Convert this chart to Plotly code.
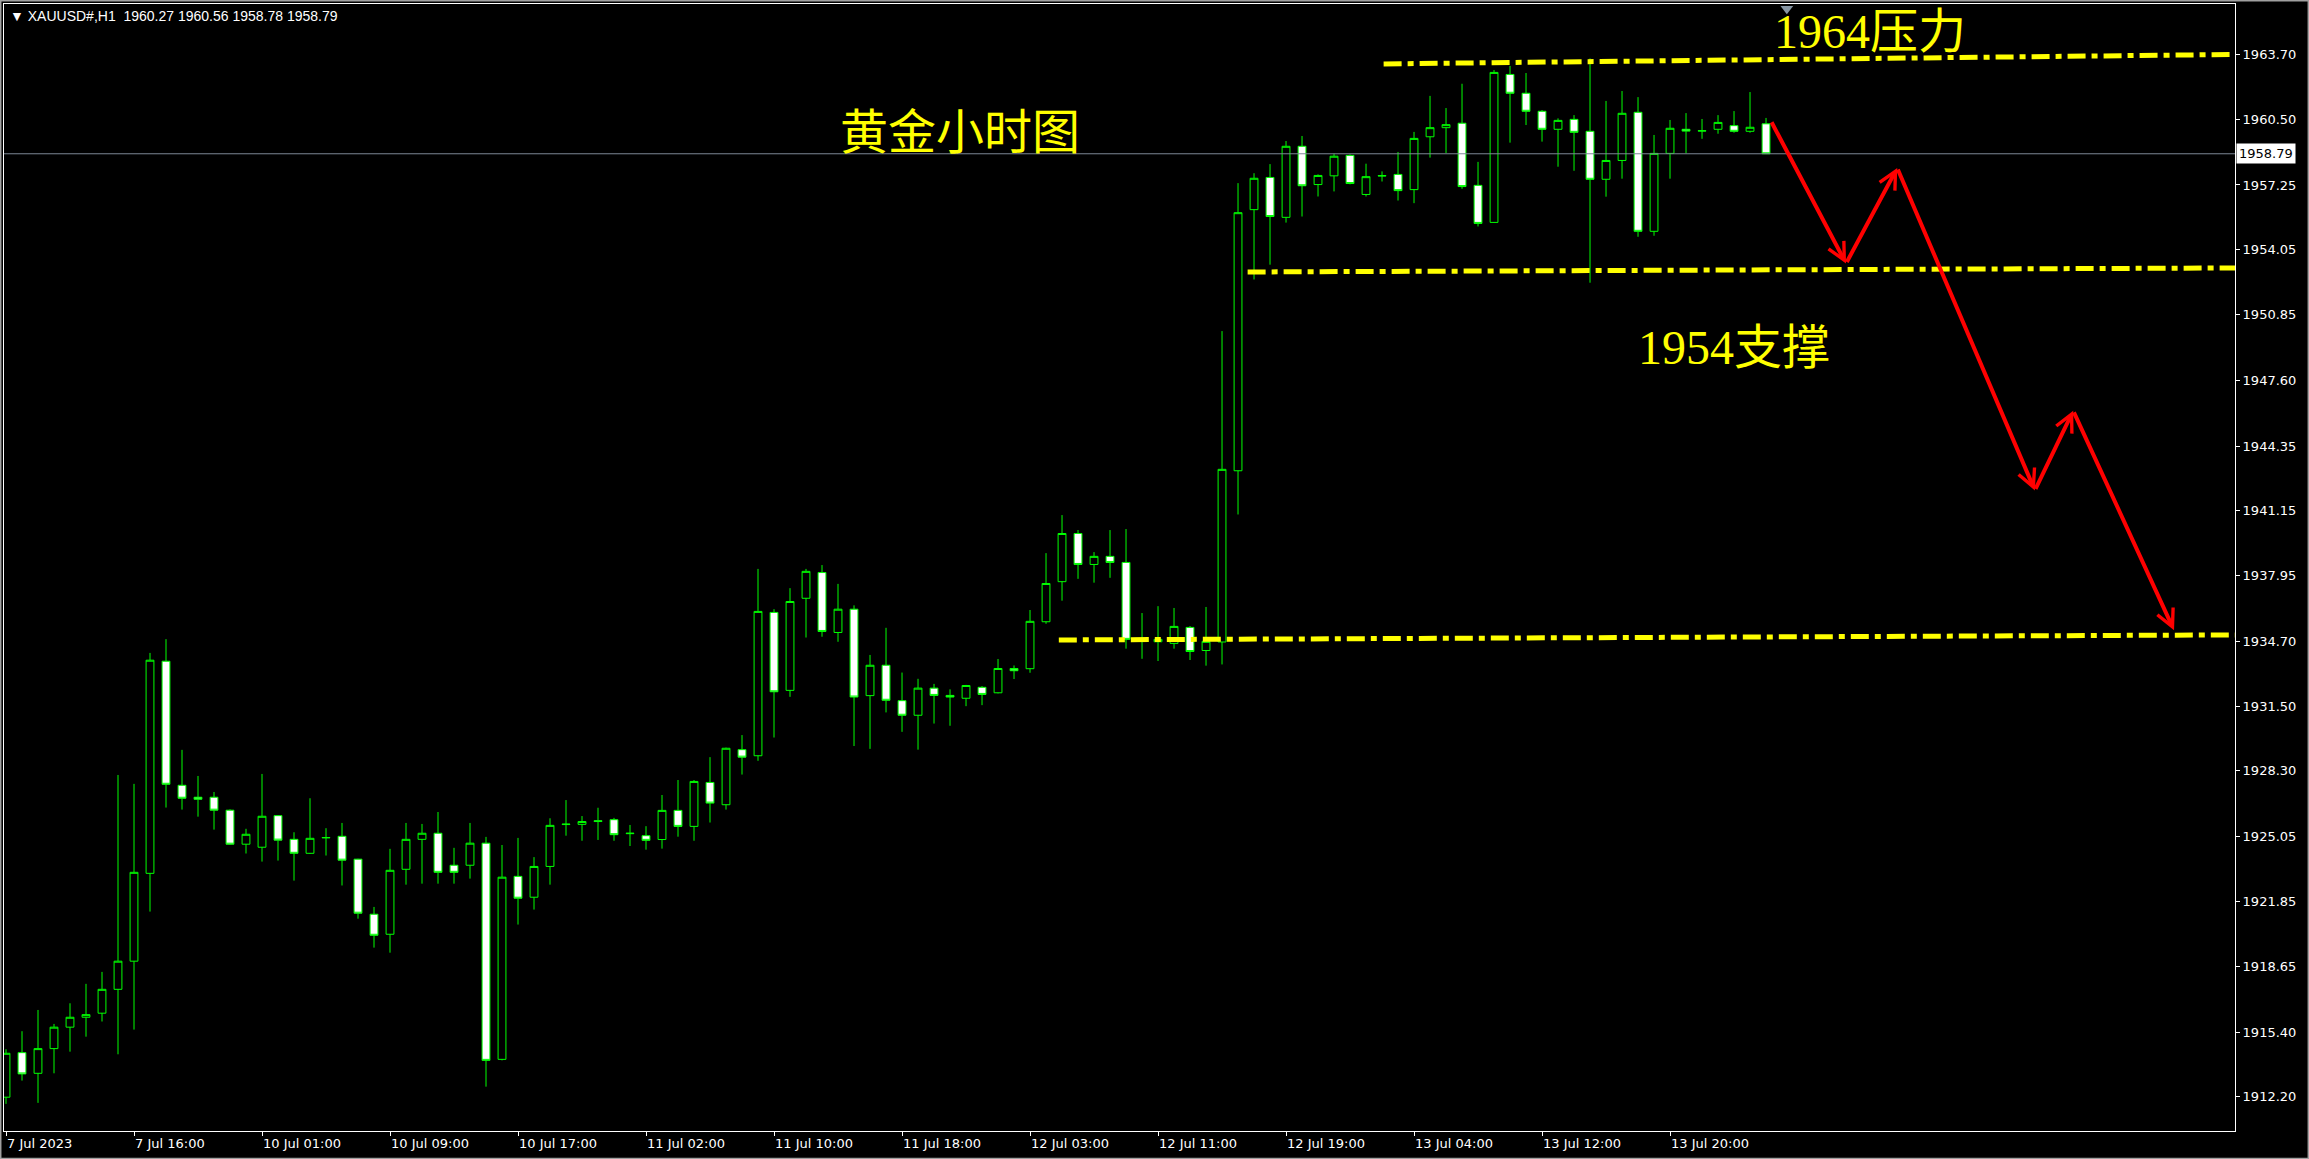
import plotly.graph_objects as go

# ---------------- data ----------------
bar_index = list(range(111))

open_ = [1912.18, 1914.38, 1913.36, 1914.58, 1915.64, 1916.13, 1916.33, 1917.51, 1918.90, 1923.24,
         1933.72, 1927.59, 1927.00, 1927.00, 1926.36, 1924.68, 1924.53, 1926.09, 1924.92, 1924.23,
         1924.99, 1925.07, 1923.94, 1921.22, 1920.23, 1923.44, 1924.92, 1925.22, 1923.64, 1923.64,
         1924.73, 1914.05, 1923.09, 1922.06, 1923.58, 1925.65, 1925.66, 1925.84, 1925.89, 1925.20,
         1925.10, 1924.91, 1926.35, 1925.56, 1927.73, 1926.63, 1929.35, 1929.05, 1936.13, 1932.28,
         1936.83, 1938.10, 1935.14, 1936.29, 1932.02, 1933.52, 1931.77, 1931.05, 1932.39, 1932.03,
         1931.89, 1932.43, 1932.16, 1933.36, 1933.35, 1935.67, 1937.65, 1940.03, 1938.50, 1938.90,
         1938.60, 1934.76, 1934.68, 1934.60, 1935.39, 1934.25, 1934.67, 1943.13, 1956.03, 1957.62,
         1955.65, 1959.16, 1957.27, 1957.70, 1958.71, 1956.78, 1957.69, 1957.77, 1957.02, 1959.63,
         1960.08, 1960.30, 1957.23, 1955.40, 1962.71, 1961.78, 1960.89, 1960.00, 1960.49, 1959.90,
         1957.53, 1958.46, 1960.84, 1954.96, 1958.81, 1960.00, 1959.91, 1960.00, 1960.18, 1959.90,
         1960.27]
high = [1914.55, 1915.44, 1916.49, 1915.80, 1916.82, 1917.78, 1918.37, 1928.10, 1927.66, 1934.13,
        1934.81, 1929.34, 1928.05, 1927.26, 1926.40, 1925.44, 1928.15, 1926.12, 1925.27, 1926.95,
        1925.47, 1925.73, 1923.96, 1921.58, 1924.45, 1925.73, 1925.68, 1926.27, 1924.50, 1925.73,
        1925.04, 1924.64, 1924.99, 1924.04, 1925.96, 1926.86, 1926.07, 1926.48, 1925.98, 1925.63,
        1925.57, 1927.11, 1927.85, 1927.85, 1928.98, 1929.45, 1930.07, 1938.28, 1936.29, 1937.33,
        1938.28, 1938.47, 1937.54, 1936.48, 1934.03, 1935.37, 1933.16, 1932.85, 1932.60, 1932.33,
        1932.55, 1932.49, 1933.83, 1933.51, 1936.25, 1939.06, 1940.94, 1940.20, 1939.11, 1940.20,
        1940.25, 1936.10, 1936.44, 1936.35, 1935.46, 1936.40, 1950.03, 1957.34, 1957.83, 1958.28,
        1959.42, 1959.67, 1957.77, 1958.80, 1958.76, 1958.30, 1957.92, 1958.88, 1959.87, 1961.65,
        1961.05, 1962.25, 1958.39, 1962.93, 1963.13, 1962.78, 1960.95, 1960.54, 1960.70, 1963.50,
        1961.40, 1961.89, 1961.59, 1959.72, 1960.46, 1960.80, 1960.51, 1960.70, 1960.90, 1961.84,
        1960.56]
low = [1911.85, 1913.00, 1911.90, 1913.36, 1914.43, 1915.17, 1915.92, 1914.30, 1915.52, 1921.35,
       1926.49, 1926.39, 1926.04, 1925.40, 1924.65, 1924.22, 1923.82, 1923.87, 1922.88, 1924.20,
       1924.12, 1922.64, 1921.00, 1919.57, 1919.32, 1922.68, 1922.73, 1922.73, 1922.73, 1922.98,
       1912.70, 1914.00, 1920.71, 1921.45, 1922.68, 1925.10, 1924.85, 1924.89, 1924.85, 1924.59,
       1924.41, 1924.46, 1925.05, 1924.85, 1925.75, 1926.39, 1928.12, 1928.80, 1929.95, 1931.96,
       1934.89, 1934.93, 1934.68, 1929.53, 1929.39, 1931.19, 1930.23, 1929.35, 1930.64, 1930.53,
       1931.50, 1931.55, 1932.13, 1932.84, 1933.15, 1935.57, 1936.71, 1937.79, 1937.60, 1937.84,
       1934.34, 1933.84, 1933.73, 1934.34, 1933.78, 1933.50, 1933.56, 1940.97, 1952.58, 1953.31,
       1955.39, 1955.69, 1956.68, 1956.93, 1957.28, 1956.68, 1957.42, 1956.48, 1956.35, 1958.60,
       1958.82, 1957.06, 1955.20, 1955.38, 1959.34, 1960.21, 1959.39, 1958.15, 1957.95, 1952.42,
       1956.67, 1957.56, 1954.69, 1954.74, 1957.56, 1958.81, 1959.53, 1959.78, 1959.83, 1959.83,
       1958.78]
close = [1914.35, 1913.33, 1914.58, 1915.64, 1916.13, 1916.26, 1917.51, 1918.90, 1923.29, 1933.77,
         1927.64, 1926.95, 1926.90, 1926.36, 1924.68, 1925.17, 1926.06, 1924.88, 1924.23, 1924.97,
         1925.01, 1923.89, 1921.27, 1920.18, 1923.39, 1924.92, 1925.22, 1923.29, 1923.29, 1924.73,
         1914.00, 1923.05, 1922.01, 1923.58, 1925.61, 1925.67, 1925.80, 1925.80, 1925.15, 1925.22,
         1924.87, 1926.35, 1925.56, 1927.78, 1926.71, 1929.42, 1928.98, 1936.18, 1932.21, 1936.67,
         1938.16, 1935.19, 1936.29, 1931.95, 1933.52, 1931.79, 1931.05, 1932.39, 1932.03, 1931.95,
         1932.52, 1932.08, 1933.36, 1933.25, 1935.69, 1937.56, 1940.03, 1938.50, 1938.90, 1938.60,
         1934.80, 1934.83, 1934.80, 1935.44, 1934.20, 1934.70, 1943.20, 1955.88, 1957.58, 1955.69,
         1959.16, 1957.21, 1957.72, 1958.67, 1957.32, 1957.66, 1957.71, 1956.97, 1959.55, 1960.08,
         1960.23, 1957.17, 1955.35, 1962.81, 1961.78, 1960.89, 1960.00, 1960.44, 1959.85, 1957.53,
         1958.46, 1960.79, 1954.96, 1958.81, 1960.05, 1959.91, 1959.93, 1960.34, 1959.90, 1960.10,
         1958.79]

x_tick_pos = [0, 8, 16, 24, 32, 40, 48, 56, 64, 72, 80, 88, 96, 104]
x_tick_labels = ["7 Jul 2023", "7 Jul 16:00", "10 Jul 01:00", "10 Jul 09:00", "10 Jul 17:00",
                 "11 Jul 02:00", "11 Jul 10:00", "11 Jul 18:00", "12 Jul 03:00", "12 Jul 11:00",
                 "12 Jul 19:00", "13 Jul 04:00", "13 Jul 12:00", "13 Jul 20:00"]
y_tick_vals = [1963.70, 1960.50, 1957.25, 1954.05, 1950.85, 1947.60, 1944.35, 1941.15, 1937.95,
               1934.70, 1931.50, 1928.30, 1925.05, 1921.85, 1918.65, 1915.40, 1912.20]
y_tick_labels = ["%.2f" % v for v in y_tick_vals]

last_price = 1958.79
header_text = "XAUUSD#,H1\u00a0\u00a01960.27 1960.56 1958.78 1958.79"

# drawn objects (dash-dot rays)
resist_x = [86.1, 139.4]
resist_y = [1963.23, 1963.70]
support_x = [77.6, 139.4]
support_y = [1952.95, 1953.15]
lower_x = [65.8, 139.4]
lower_y = [1934.77, 1935.02]

# red forecast path
arrow_x = [110.3, 115.0, 118.2, 126.8, 129.2, 135.5]
arrow_y = [1960.42, 1953.37, 1958.09, 1942.16, 1946.09, 1935.25]

labels_text = ["黄金小时图", "1964压力", "1954支撑"]
labels_x = [59.6, 116.5, 108.0]
labels_y = [1959.82, 1964.82, 1949.22]

shift_marker_x = [111.3]
shift_marker_y = [1965.95]

# ---------------- figure ----------------
GREEN = "#00ff00"
YELLOW = "#ffff00"
fig = go.Figure()

fig.add_trace(go.Candlestick(
    x=bar_index, open=open_, high=high, low=low, close=close,
    increasing=dict(line=dict(color=GREEN, width=1), fillcolor="#000000"),
    decreasing=dict(line=dict(color=GREEN, width=1), fillcolor="#ffffff"),
    whiskerwidth=0, showlegend=False, hoverinfo="skip"))

dash = "18px,6px,6px,6px"
for lx, ly in [(resist_x, resist_y), (support_x, support_y), (lower_x, lower_y)]:
    fig.add_trace(go.Scatter(x=lx, y=ly, mode="lines",
                             line=dict(color=YELLOW, width=5, dash=dash),
                             showlegend=False, hoverinfo="skip"))

# red polyline with arrowheads
for k in range(len(arrow_x) - 1):
    fig.add_annotation(x=arrow_x[k + 1], y=arrow_y[k + 1], ax=arrow_x[k], ay=arrow_y[k],
                       xref="x", yref="y", axref="x", ayref="y", text="",
                       showarrow=True, arrowhead=5, arrowsize=0.85, arrowwidth=4,
                       arrowcolor="#ff0000", standoff=0, startstandoff=0)

fig.add_trace(go.Scatter(x=shift_marker_x, y=shift_marker_y, mode="markers",
                         marker=dict(symbol="triangle-down", size=11, color="#8796a4"),
                         showlegend=False, hoverinfo="skip", cliponaxis=False))

for t, x, y in zip(labels_text, labels_x, labels_y):
    fig.add_annotation(x=x, y=y, xref="x", yref="y", text=t, showarrow=False,
                       font=dict(family="Liberation Serif, 'Noto Sans CJK SC', serif",
                                 size=48, color=YELLOW),
                       xanchor="center", yanchor="middle")

# current price line + label
fig.add_shape(type="line", xref="paper", yref="y", x0=0, x1=1, y0=last_price, y1=last_price,
              line=dict(color="#7c8895", width=1))
fig.add_annotation(xref="paper", yref="y", x=1, y=last_price, xanchor="left", yanchor="middle",
                   xshift=1, text="%.2f" % last_price, showarrow=False, bgcolor="#ffffff",
                   borderpad=2, font=dict(family="DejaVu Sans", size=13, color="#000000"))

# header
fig.add_annotation(xref="paper", yref="paper", x=0, y=1, xanchor="left", yanchor="middle",
                   xshift=4, yshift=-12, text="\u25bc " + header_text, showarrow=False,
                   font=dict(family="Liberation Sans, DejaVu Sans", size=14, color="#ffffff"))

# outer window border
fig.add_shape(type="rect", xref="paper", yref="paper", x0=-0.0018, x1=1.0332, y0=-0.025, y1=1.0035,
              line=dict(color="#a0a0a0", width=3), layer="above")

axis_font = dict(family="DejaVu Sans", size=13, color="#ffffff")
fig.update_layout(
    width=2309, height=1159,
    margin=dict(l=4, r=74, t=4, b=28),
    paper_bgcolor="#000000", plot_bgcolor="#000000",
    showlegend=False,
    xaxis=dict(range=[-0.125, 139.31], showgrid=False, zeroline=False,
               showline=True, mirror=True, linecolor="#ffffff", linewidth=1,
               ticks="outside", ticklen=4, tickcolor="#ffffff",
               tickvals=x_tick_pos, ticktext=x_tick_labels, tickfont=axis_font,
               ticklabelposition="outside right", rangeslider=dict(visible=False)),
    yaxis=dict(range=[1910.51, 1966.19], side="right", showgrid=False, zeroline=False,
               showline=True, mirror=True, linecolor="#ffffff", linewidth=1,
               ticks="outside", ticklen=4, tickcolor="#ffffff",
               tickvals=y_tick_vals, ticktext=y_tick_labels, tickfont=axis_font),
)

fig.write_html("out.html", config={"displayModeBar": False},
               post_script="document.body.style.margin='0';document.body.style.overflow='hidden';")
